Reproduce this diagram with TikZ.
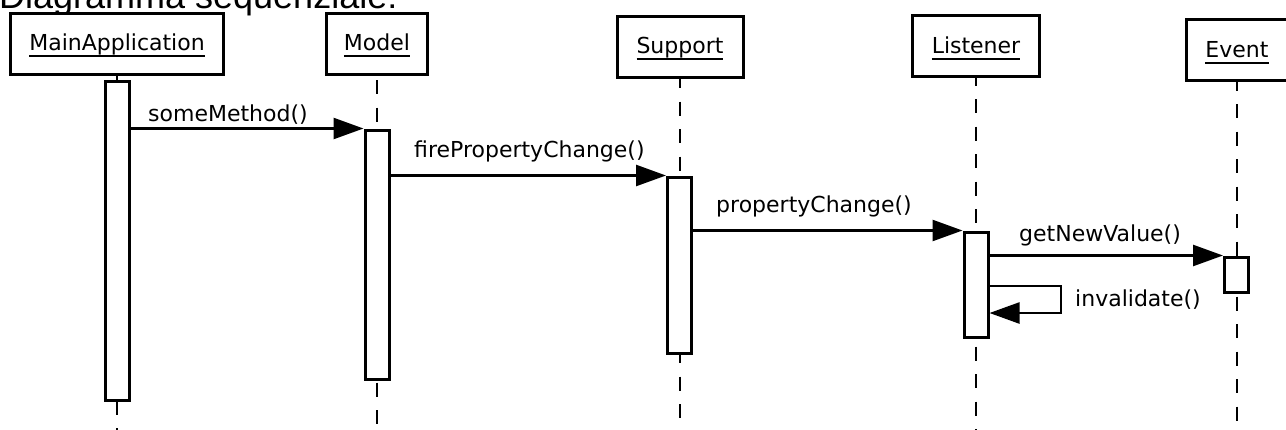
\documentclass[tikz,border=0pt]{standalone}
\usepackage{fontspec}
\setmainfont{DejaVu Sans}
\newfontfamily\titlefont{Liberation Sans}
\newfontfamily\lblfont{DejaVu Sans}
\usetikzlibrary{arrows.meta}
\newcommand{\lblsize}{\lblfont\fontsize{22}{26}\selectfont}
\newcommand{\ulx}[1]{\setbox0\hbox{#1}\rlap{\rule[-6.5pt]{\wd0}{1.6pt}}\box0}
\begin{document}
\begin{tikzpicture}[x=1pt,y=-1pt,
  obj/.style={draw, line width=3pt, fill=white, font=\lblsize, text height=16pt, text depth=2pt, inner sep=0pt, minimum height=61pt},
  act/.style={draw, line width=3pt, fill=white, minimum width=24pt, inner sep=0pt},
  life/.style={line width=1.5pt, dash pattern=on 14pt off 13.5pt},
  msg/.style={line width=2.5pt, -{Triangle[length=30pt,width=21pt]}},
  lbl/.style={font=\lblsize, anchor=base west, inner sep=0pt}]
\useasboundingbox (0,0) rectangle (1286,429);
\coordinate (bot) at (0,432);
% title
\node[anchor=base west, inner sep=0pt, font=\titlefont\fontsize{36}{40}\selectfont] (title) at (-1,8) {Diagramma sequenziale:};
% objects
\node[obj, minimum width=213pt] (mainobj) at (117,43.5) {\ulx{MainApplication}};
\node[obj, minimum width=101pt] (modelobj) at (377,43.5) {\ulx{Model}};
\node[obj, minimum width=126pt] (supobj) at (680,46.5) {\ulx{Support}};
\node[obj, minimum width=127pt] (lisobj) at (976,46) {\ulx{Listener}};
\node[obj, minimum width=101pt] (evobj) at (1237,50) {\ulx{Event}};
% lifelines
\draw[life, dash phase=5pt] (mainobj.south) -- (mainobj.south |- bot);
\draw[life, dash phase=23pt] (modelobj.south) -- (modelobj.south |- bot);
\draw[life, dash phase=4.5pt] (supobj.south) -- (supobj.south |- bot);
\draw[life, dash phase=6.5pt] (lisobj.south) -- (lisobj.south |- bot);
\draw[life, dash phase=5.5pt] (evobj.south) -- (evobj.south |- bot);
% activations
\node[act, minimum height=319pt] (mainact) at (117,240.5) {};
\node[act, minimum height=249pt] (modelact) at (377,254.5) {};
\node[act, minimum height=176pt] (supact) at (679.5,265) {};
\node[act, minimum height=105pt] (lisact) at (976,284.5) {};
\node[act, minimum height=35pt] (evact) at (1236.5,274.5) {};
% messages
\draw[msg] (mainact.east |- modelact.north west) -- (modelact.north west);
\draw[msg] (modelact.east |- supact.north west) -- (supact.north west);
\draw[msg] (supact.east |- lisact.north west) -- (lisact.north west);
\draw[msg] (lisact.east |- evact.north west) -- (evact.north west);
\coordinate (loopA) at (1061,286);
\coordinate (loopB) at (1061,313);
\draw[msg] (lisact.east |- loopA) -- (loopA) -- (loopB) -- (lisact.east |- loopB);
% labels
\node[lbl] (l1) at (148,121) {someMethod()};
\node[lbl] (l2) at (414,157) {firePropertyChange()};
\node[lbl] (l3) at (716,212) {propertyChange()};
\node[lbl] (l4) at (1019,241) {getNewValue()};
\node[lbl] (l5) at (1075,306) {invalidate()};
\end{tikzpicture}
\end{document}
